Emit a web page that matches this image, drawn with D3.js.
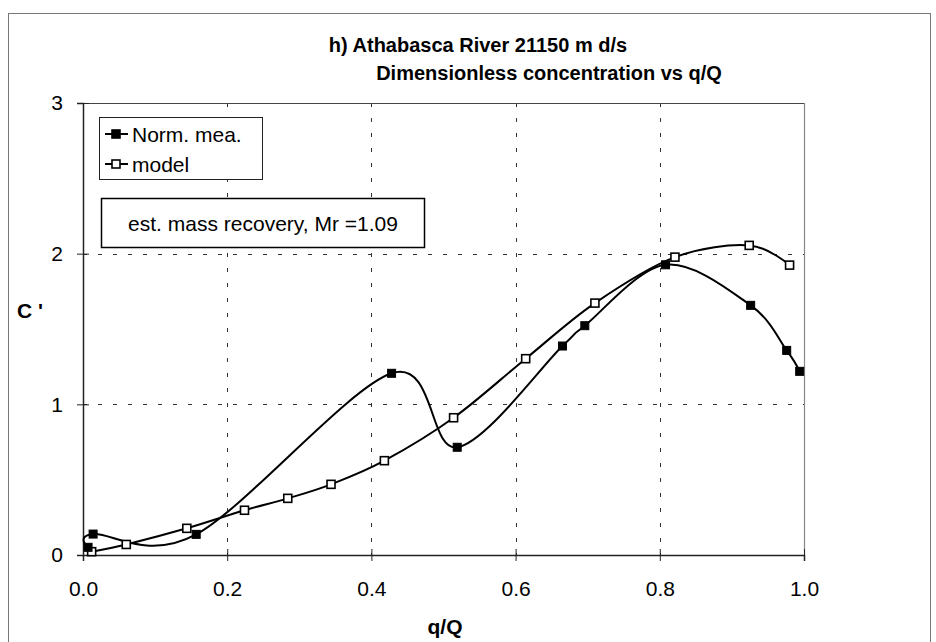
<!DOCTYPE html>
<html>
<head>
<meta charset="utf-8">
<script src="https://cdn.jsdelivr.net/npm/d3@7"></script>
<style>
  html, body { margin: 0; padding: 0; background: #fff; }
  svg { display: block; font-family: "Liberation Sans", Arial, Helvetica, sans-serif; }
</style>
</head>
<body>
<svg id="chart" width="936" height="642"></svg>
<script>
// ---- data ----
const titleLines = ["h) Athabasca River 21150 m d/s", "Dimensionless concentration vs q/Q"];
const xLabel = "q/Q";
const yLabel = "C '";
const xTicks = [0, 0.2, 0.4, 0.6, 0.8, 1.0];
const yTicks = [0, 1, 2, 3];
const seriesNames = ["Norm. mea.", "model"];
const annotation = "est. mass recovery, Mr =1.09";

const measX = [0.007, 0.014, 0.157, 0.428, 0.519, 0.665, 0.696, 0.808, 0.926, 0.976, 0.994];
const measY = [0.051, 0.139, 0.137, 1.206, 0.715, 1.387, 1.522, 1.926, 1.657, 1.358, 1.219];

const modelX = [0.012, 0.060, 0.144, 0.224, 0.284, 0.344, 0.418, 0.514, 0.614, 0.710, 0.821, 0.924, 0.980];
const modelY = [0.022, 0.070, 0.177, 0.297, 0.376, 0.469, 0.626, 0.911, 1.303, 1.672, 1.977, 2.055, 1.924];

// ---- drawing ----
const svg = d3.select("#chart");
const W = 936, H = 642;
const plot = { left: 83, right: 804, top: 103, bottom: 555 };

const x = d3.scaleLinear().domain([0, 1]).range([plot.left, plot.right]);
const y = d3.scaleLinear().domain([0, 3]).range([plot.bottom, plot.top]);

// outer frame
svg.append("rect")
  .attr("x", 8.5).attr("y", 13.5).attr("width", 922).attr("height", 640)
  .attr("fill", "none").attr("stroke", "#777").attr("stroke-width", 1);

// title
const title = svg.append("text")
  .attr("font-weight", "bold").attr("font-size", 20).attr("fill", "#000");
title.append("tspan").attr("x", 478).attr("y", 52).attr("text-anchor", "middle").text(titleLines[0]);
title.append("tspan").attr("x", 549).attr("y", 80).attr("text-anchor", "middle").text(titleLines[1]);

// gridlines
const g = svg.append("g");
g.selectAll(".hgrid").data(yTicks.filter(d => d > 0 && d < 3)).join("line")
  .attr("x1", plot.left).attr("x2", plot.right)
  .attr("y1", d => Math.round(y(d)) + 0.5).attr("y2", d => Math.round(y(d)) + 0.5)
  .attr("stroke", "#333").attr("stroke-width", 1).attr("stroke-dasharray", "4,11");
g.selectAll(".vgrid").data(xTicks.filter(d => d > 0 && d < 1)).join("line")
  .attr("x1", d => Math.round(x(d)) + 0.5).attr("x2", d => Math.round(x(d)) + 0.5)
  .attr("y1", plot.top).attr("y2", plot.bottom)
  .attr("stroke", "#333").attr("stroke-width", 1).attr("stroke-dasharray", "4,11");

// plot border (top and right)
svg.append("line").attr("x1", plot.left).attr("x2", plot.right)
  .attr("y1", plot.top + 0.5).attr("y2", plot.top + 0.5).attr("stroke", "#444").attr("stroke-width", 1.2);
svg.append("line").attr("x1", plot.right + 0.5).attr("x2", plot.right + 0.5)
  .attr("y1", plot.top).attr("y2", plot.bottom).attr("stroke", "#888").attr("stroke-width", 1.2);

// axes
const xAxis = d3.axisBottom(x).tickValues(xTicks).tickFormat(d3.format(".1f")).tickSize(6).tickPadding(20);
const yAxis = d3.axisLeft(y).tickValues(yTicks).tickFormat(d3.format("d")).tickSize(6).tickPadding(14);

const gx = svg.append("g").attr("transform", `translate(0,${plot.bottom})`).call(xAxis);
const gy = svg.append("g").attr("transform", `translate(${plot.left},0)`).call(yAxis);
[gx, gy].forEach(a => {
  a.select(".domain").attr("stroke", "#222").attr("stroke-width", 1.5);
  a.selectAll(".tick line").attr("stroke", "#222");
  a.selectAll(".tick text").attr("font-size", 21).attr("fill", "#000")
    .attr("font-family", "Liberation Sans, Arial, sans-serif");
});
// crossing ticks: extend inward too
gx.selectAll(".tick line").attr("y1", -6).attr("y2", 6);
gy.selectAll(".tick line").attr("x1", 6).attr("x2", -6);

// axis titles
svg.append("text").attr("x", 445).attr("y", 634).attr("text-anchor", "middle")
  .attr("font-weight", "bold").attr("font-size", 21).text(xLabel);
svg.append("text").attr("x", 30).attr("y", 318).attr("text-anchor", "middle")
  .attr("font-weight", "bold").attr("font-size", 21).text(yLabel);

// series
const meas = measX.map((v, i) => [v, measY[i]]);
const model = modelX.map((v, i) => [v, modelY[i]]);
const line = d3.line().x(d => x(d[0])).y(d => y(d[1])).curve(d3.curveCardinal.tension(0));

svg.append("path").datum(model).attr("d", line)
  .attr("fill", "none").attr("stroke", "#000").attr("stroke-width", 2);
svg.append("path").datum(meas).attr("d", line)
  .attr("fill", "none").attr("stroke", "#000").attr("stroke-width", 2);

const ms = 8;
svg.selectAll(".mmod").data(model).join("rect")
  .attr("x", d => x(d[0]) - ms / 2).attr("y", d => y(d[1]) - ms / 2)
  .attr("width", ms).attr("height", ms)
  .attr("fill", "#fff").attr("stroke", "#000").attr("stroke-width", 1.6);
svg.selectAll(".mmeas").data(meas).join("rect")
  .attr("x", d => x(d[0]) - ms / 2).attr("y", d => y(d[1]) - ms / 2)
  .attr("width", ms).attr("height", ms)
  .attr("fill", "#000").attr("stroke", "#000").attr("stroke-width", 1);

// legend
const lg = svg.append("g");
lg.append("rect").attr("x", 99.5).attr("y", 117.5).attr("width", 163).attr("height", 62)
  .attr("fill", "#fff").attr("stroke", "#222").attr("stroke-width", 1);
seriesNames.forEach((name, i) => {
  const cy = 134 + i * 30;
  lg.append("line").attr("x1", 105).attr("x2", 128).attr("y1", cy).attr("y2", cy)
    .attr("stroke", "#000").attr("stroke-width", 2);
  lg.append("rect").attr("x", 116 - ms / 2).attr("y", cy - ms / 2).attr("width", ms).attr("height", ms)
    .attr("fill", i === 0 ? "#000" : "#fff").attr("stroke", "#000").attr("stroke-width", 1.6);
  lg.append("text").attr("x", 132).attr("y", cy + 7.5).attr("font-size", 21).text(name);
});

// annotation box
svg.append("rect").attr("x", 101.5).attr("y", 198.5).attr("width", 323).attr("height", 49)
  .attr("fill", "#fff").attr("stroke", "#000").attr("stroke-width", 1.5);
svg.append("text").attr("x", 263).attr("y", 231).attr("text-anchor", "middle")
  .attr("font-size", 21).text(annotation);
</script>
</body>
</html>
